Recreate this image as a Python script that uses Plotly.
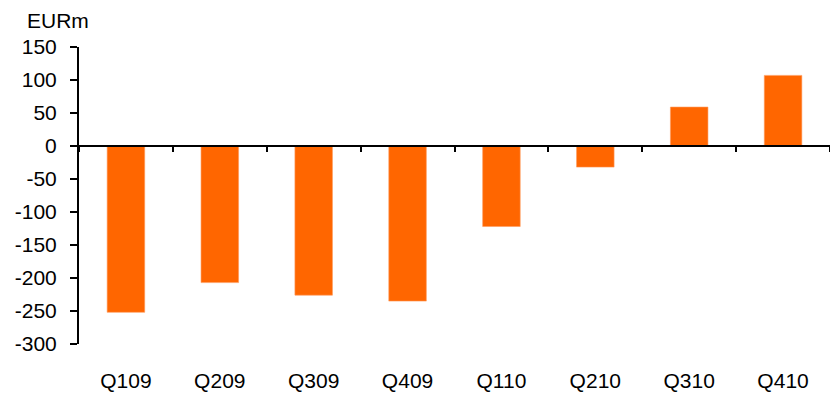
import plotly.graph_objects as go

# Quarterly result, EUR millions
quarters = ["Q109", "Q209", "Q309", "Q409", "Q110", "Q210", "Q310", "Q410"]
values = [-252, -207, -226, -235, -122, -32, 59, 107]

y_ticks = [150, 100, 50, 0, -50, -100, -150, -200, -250, -300]

BAR_COLOR = "#FF6600"
FONT = "Liberation Sans, Arial, sans-serif"
FONT_SIZE = 21

fig = go.Figure()

fig.add_trace(go.Bar(
    x=quarters,
    y=values,
    width=0.4,
    marker=dict(color=BAR_COLOR, line=dict(color="#FF9A5C", width=0.6)),
    hoverinfo="x+y",
))

# Invisible companion trace so the category axis drawn through zero has its categories
fig.add_trace(go.Scatter(
    x=quarters,
    y=values,
    xaxis="x2",
    mode="markers",
    marker=dict(opacity=0),
    hoverinfo="skip",
    showlegend=False,
))

y_min, y_max = -300, 150

fig.update_layout(
    width=830,
    height=395,
    margin=dict(l=79, r=0, t=47, b=51),
    paper_bgcolor="white",
    plot_bgcolor="white",
    showlegend=False,
    font=dict(family=FONT, size=FONT_SIZE, color="black"),
    xaxis=dict(
        type="category",
        range=[-0.5, 7.5],
        showline=False,
        showgrid=False,
        zeroline=False,
        ticks="",
        tickfont=dict(size=FONT_SIZE, family=FONT, color="black"),
        ticklabelstandoff=22,
    ),
    # Category axis line running along y = 0, with ticks between the quarters
    xaxis2=dict(
        type="category",
        overlaying="x",
        anchor="free",
        position=(0 - y_min) / (y_max - y_min),
        range=[-0.5, 7.5],
        showline=True,
        linecolor="black",
        linewidth=2,
        showgrid=False,
        zeroline=False,
        ticks="outside",
        tickson="boundaries",
        ticklen=5,
        tickwidth=2,
        tickcolor="black",
        showticklabels=False,
    ),
    yaxis=dict(
        range=[y_min, y_max],
        tickvals=y_ticks,
        ticktext=[str(v) for v in y_ticks],
        showline=True,
        linecolor="black",
        linewidth=2,
        showgrid=False,
        zeroline=False,
        ticks="outside",
        ticklen=7,
        tickwidth=2,
        tickcolor="black",
        tickfont=dict(size=FONT_SIZE, family=FONT, color="black"),
        ticklabelstandoff=9,
    ),
    annotations=[dict(
        text="EURm",
        xref="paper",
        yref="paper",
        x=(58 - 79) / 751,
        y=(344 - 21) / 297,
        xanchor="center",
        yanchor="middle",
        showarrow=False,
        font=dict(size=FONT_SIZE, family=FONT, color="black"),
    )],
)

fig.write_html("out.html")
